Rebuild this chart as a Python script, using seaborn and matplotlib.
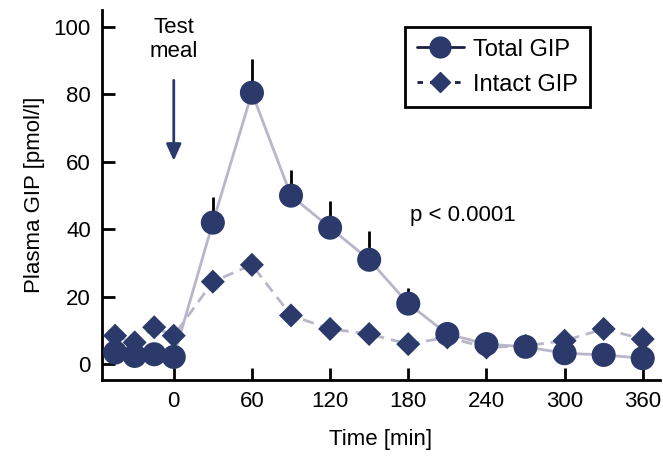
import numpy as np
import pandas as pd
import matplotlib
matplotlib.use("Agg")
import matplotlib.pyplot as plt
from matplotlib.lines import Line2D
import seaborn as sns

time = [-45, -30, -15, 0, 30, 60, 90, 120, 150, 180, 210, 240, 270, 300, 330, 360]
total_gip = [3.5, 2.5, 3.0, 2.2, 42.0, 80.5, 50.0, 40.5, 31.0, 18.0, 9.0, 6.0, 5.2, 3.3, 2.8, 1.8]
total_err = [0, 0, 0, 0, 7.5, 10.0, 7.5, 8.0, 8.5, 4.5, 0, 0, 0, 0, 0, 0]
intact_gip = [8.5, 6.5, 11.0, 8.5, 24.5, 29.5, 14.5, 10.5, 9.0, 6.0, 8.0, 5.0, 5.5, 7.0, 10.5, 7.5]
xticks = [0, 60, 120, 180, 240, 300, 360]
yticks = [0, 20, 40, 60, 80, 100]

sns.set_style("ticks")
plt.rcParams['font.family'] = ['Liberation Sans', 'DejaVu Sans']
plt.rcParams['text.color'] = 'black'
plt.rcParams['axes.labelcolor'] = 'black'
plt.rcParams['xtick.color'] = 'black'
plt.rcParams['ytick.color'] = 'black'
plt.rcParams['axes.edgecolor'] = 'black'

navy = "#2b3a6b"
linec = "#b9b6c9"
FS = 16

df = pd.DataFrame({"time": time, "total": total_gip, "intact": intact_gip, "err": total_err})

fig = plt.figure(figsize=(6.63, 4.57), dpi=100)
ax = fig.add_axes([0.154, 0.168, 0.841, 0.81])

sel = df[df.err > 0]
ax.vlines(sel.time, sel.total, sel.total + sel.err, color="black", lw=2, zorder=2)

sns.lineplot(data=df, x="time", y="intact", ax=ax, color=linec, lw=2, linestyle=(0, (4, 2.5)), zorder=3)
sns.lineplot(data=df, x="time", y="total", ax=ax, color=linec, lw=2, zorder=3)
sns.scatterplot(data=df, x="time", y="intact", ax=ax, marker="D", s=150, color=navy, edgecolor="none", zorder=4)
sns.scatterplot(data=df, x="time", y="total", ax=ax, marker="o", s=300, color=navy, edgecolor="none", zorder=5)

ax.set_xlim(-55, 373)
ax.set_ylim(-4.7, 105)
ax.set_xticks(xticks)
ax.set_yticks(yticks)
ax.tick_params(direction="in", length=9, width=2, labelsize=FS, pad=8, colors="black")
for s in ["left", "bottom"]:
    ax.spines[s].set_linewidth(2)
    ax.spines[s].set_color("black")
sns.despine(ax=ax)

ax.set_xlabel("Time [min]", fontsize=FS, labelpad=12)
ax.set_ylabel("Plasma GIP [pmol/l]", fontsize=FS, labelpad=6)

ax.annotate("", xy=(0, 59.5), xytext=(0, 85),
            arrowprops=dict(arrowstyle="-|>,head_length=1.0,head_width=0.45", color=navy, lw=2))
ax.text(0, 103, "Test\nmeal", ha="center", va="top", fontsize=FS, linespacing=1.2)
ax.text(181, 44, "p < 0.0001", ha="left", va="center", fontsize=FS)

handles = [
    Line2D([0], [0], color="#1a2040", lw=2, marker="o", markersize=15, markerfacecolor=navy,
           markeredgecolor=navy, label="Total GIP"),
    Line2D([0], [0], color="#1a2040", lw=2, linestyle=(0, (2, 2.5)), marker="D", markersize=10,
           markerfacecolor=navy, markeredgecolor=navy, label="Intact GIP"),
]
leg = ax.legend(handles=handles, loc="upper left", bbox_to_anchor=(0.543, 0.955), fontsize=17,
                frameon=True, fancybox=False, edgecolor="black", framealpha=1, handlelength=2.0,
                borderpad=0.5, labelspacing=0.55, handletextpad=0.4, borderaxespad=0)
leg.get_frame().set_linewidth(2)
leg.get_frame().set_edgecolor("black")

fig.savefig("out.png", dpi=100)
